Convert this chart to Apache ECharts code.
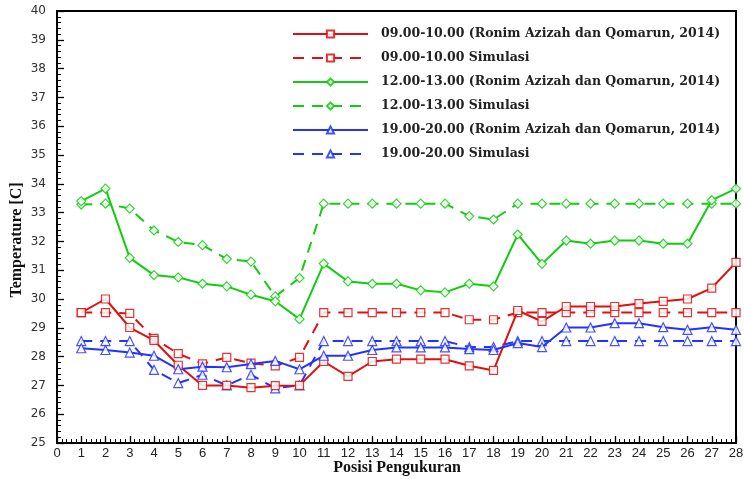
<!DOCTYPE html>
<html>
<head>
<meta charset="utf-8">
<script src="https://cdn.jsdelivr.net/npm/echarts@6/dist/echarts.min.js"></script>
<style>html,body{margin:0;padding:0;background:#fff}#c{width:744px;height:479px}</style>
</head>
<body>
<div id="c"></div>
<script>
const positions = [1,2,3,4,5,6,7,8,9,10,11,12,13,14,15,16,17,18,19,20,21,22,23,24,25,26,27,28];
const red_exp = [29.53,30.0,29.01,28.56,27.70,27.0,27.0,26.92,26.99,27.0,27.83,27.31,27.83,27.91,27.91,27.91,27.68,27.52,29.60,29.22,29.74,29.74,29.74,29.84,29.92,30.0,30.38,31.27];
const red_sim = [29.53,29.53,29.50,28.63,28.10,27.75,27.97,27.77,27.68,27.97,29.53,29.53,29.53,29.53,29.53,29.53,29.28,29.28,29.53,29.53,29.53,29.53,29.53,29.53,29.53,29.53,29.53,29.53];
const green_exp = [33.40,33.83,31.43,30.83,30.75,30.53,30.44,30.15,29.92,29.30,31.23,30.61,30.53,30.53,30.30,30.23,30.53,30.44,32.24,31.22,32.03,31.92,32.03,32.03,31.92,31.92,33.43,33.83];
const green_sim = [33.28,33.31,33.14,32.38,31.98,31.87,31.39,31.30,30.09,30.73,33.31,33.31,33.31,33.31,33.31,33.31,32.88,32.76,33.31,33.31,33.31,33.31,33.31,33.31,33.31,33.31,33.31,33.31];
const blue_exp = [28.29,28.23,28.14,28.03,27.56,27.65,27.63,27.74,27.85,27.56,28.03,28.03,28.23,28.32,28.32,28.32,28.26,28.23,28.47,28.33,29.01,29.01,29.16,29.16,29.02,28.93,29.02,28.93];
const blue_sim = [28.54,28.54,28.54,27.54,27.08,27.37,27.00,27.37,26.90,27.00,28.54,28.54,28.54,28.54,28.54,28.54,28.33,28.33,28.54,28.54,28.54,28.54,28.54,28.54,28.54,28.54,28.54,28.54];
const seriesNames = [
  "09.00-10.00 (Ronim Azizah dan Qomarun, 2014)",
  "09.00-10.00 Simulasi",
  "12.00-13.00 (Ronim Azizah dan Qomarun, 2014)",
  "12.00-13.00 Simulasi",
  "19.00-20.00 (Ronim Azizah dan Qomarun, 2014)",
  "19.00-20.00 Simulasi"
];
const xLabelTitle = "Posisi Pengukuran";
const yLabelTitle = "Temperature [C]";

const RED = '#dd1111', GREEN = '#11cc11', BLUE = '#2233ff';
function pairs(vals){ return positions.map((p,i)=>[p, vals[i]]); }
function mk(name, vals, color, dashed, symbol, size){
  return {
    name: name, type: 'line', data: pairs(vals),
    symbol: symbol, symbolSize: size, showAllSymbol: true,
    lineStyle: {color: color, width: 2, type: dashed ? [11,8] : 'solid'},
    itemStyle: {color: '#fff', borderColor: color, borderWidth: 1.2, opacity: 0.85},
    emphasis: {disabled: true},
    animation: false, z: dashed ? 3 : 4
  };
}
const tri = 'path://M5,0 L10,9 L0,9 Z';
const chart = echarts.init(document.getElementById('c'), null, {renderer: 'canvas'});
chart.setOption({
  animation: false,
  backgroundColor: '#fff',
  grid: {left: 57, right: 8, top: 11, bottom: 36, outerBoundsMode: 'none', containLabel: false, show: true, borderColor: '#000', borderWidth: 2, backgroundColor: 'transparent'},
  legend: {
    orient: 'vertical', left: 287, top: 22, itemWidth: 75, itemHeight: 9, itemGap: 10,
    textStyle: {fontFamily: 'DejaVu Serif', fontWeight: 'bold', fontSize: 12.5, color: '#222', padding: [0,0,0,8], lineHeight: 14},
    data: seriesNames
  },
  graphic: [{
    type: 'text', x: 17, y: 240, rotation: Math.PI / 2,
    style: {text: yLabelTitle, fontFamily: 'Liberation Serif', fontWeight: 'bold', fontSize: 16, fill: '#111', align: 'center', verticalAlign: 'middle'}
  }, {
    type: 'text', x: 397, y: 468,
    style: {text: xLabelTitle, fontFamily: 'Liberation Serif', fontWeight: 'bold', fontSize: 16, fill: '#111', align: 'center', verticalAlign: 'middle'}
  }],
  xAxis: {
    type: 'value', min: 0, max: 28, interval: 1,
    axisLine: {lineStyle: {color: '#000', width: 2}},
    axisTick: {inside: true, length: 7, lineStyle: {color: '#000', width: 1.3}},
    minorTick: {show: true, splitNumber: 5, length: 4, lineStyle: {color: '#000', width: 1}},
    axisLabel: {fontFamily: 'Liberation Sans Narrow, Liberation Sans', fontSize: 13, color: '#222', margin: 4},
    splitLine: {show: false}
  },
  yAxis: {
    type: 'value', min: 25, max: 40, interval: 1,
    axisLine: {lineStyle: {color: '#000', width: 2}},
    axisTick: {inside: true, length: 7, lineStyle: {color: '#000', width: 1.3}},
    minorTick: {show: true, splitNumber: 5, length: 4, lineStyle: {color: '#000', width: 1}},
    axisLabel: {fontFamily: 'DejaVu Sans', fontSize: 12, color: '#333', margin: 11},
    splitLine: {show: false}
  },
  series: [
    mk(seriesNames[0], red_exp, RED, false, 'rect', 8),
    mk(seriesNames[1], red_sim, RED, true, 'rect', 8),
    mk(seriesNames[2], green_exp, GREEN, false, 'diamond', 9),
    mk(seriesNames[3], green_sim, GREEN, true, 'diamond', 9),
    mk(seriesNames[4], blue_exp, BLUE, false, tri, 9),
    mk(seriesNames[5], blue_sim, BLUE, true, tri, 9)
  ]
});
</script>
</body>
</html>
